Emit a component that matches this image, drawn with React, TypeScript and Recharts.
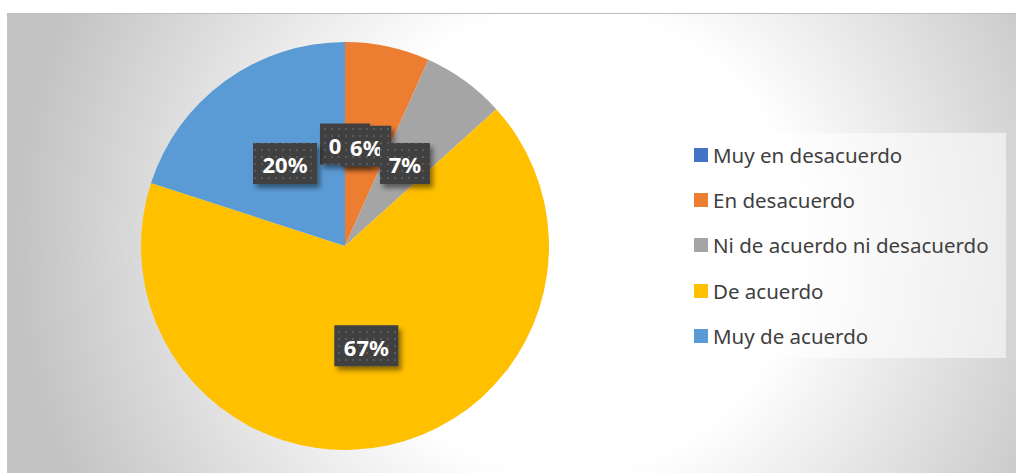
import React from 'react';
import { PieChart, Pie, Cell, Legend } from 'recharts';

const categories = [
  'Muy en desacuerdo',
  'En desacuerdo',
  'Ni de acuerdo ni desacuerdo',
  'De acuerdo',
  'Muy de acuerdo',
];
const shares = [0, 6.7, 6.6, 66.7, 20.0];
const percentLabels = ['0%', '6%', '7%', '67%', '20%'];
const colors = ['#4472C4', '#ED7D31', '#A5A5A5', '#FFC000', '#5B9BD5'];

const data = categories.map((name, i) => ({ name, value: shares[i] }));

const RAD = Math.PI / 180;
const FONT = '"Noto Sans", "Open Sans", sans-serif';

const renderLabel = (props: any) => {
  const { cx, cy, midAngle, outerRadius, index } = props;
  const r = outerRadius * 0.5;
  const x = cx + r * Math.cos(-midAngle * RAD);
  const y = cy + r * Math.sin(-midAngle * RAD);
  const text = percentLabels[index];
  const w = 14 * text.length + 22;
  const h = 41;
  return (
    <g key={`lbl-${index}`}>
      <rect x={x - w / 2} y={y - h / 2} width={w} height={h} fill="#404040" filter="url(#lblShadow)" />
      <rect x={x - w / 2} y={y - h / 2} width={w} height={h} fill="url(#lblDots)" />
      <text
        x={x}
        y={y + 1}
        textAnchor="middle"
        dominantBaseline="central"
        fill="#ffffff"
        fontWeight={700}
        fontSize={22}
        fontFamily={FONT}
      >
        {text}
      </text>
    </g>
  );
};

const renderLegend = () => (
  <div
    style={{
      position: 'relative',
      width: 325,
      height: 225,
      background: 'rgba(255,255,255,0.55)',
      fontFamily: FONT,
    }}
  >
    {categories.map((name, i) => (
      <div
        key={name}
        style={{
          position: 'absolute',
          left: 13,
          top: 22 + i * 45.2 - 12,
          height: 24,
          display: 'flex',
          alignItems: 'center',
          whiteSpace: 'nowrap',
        }}
      >
        <span style={{ display: 'inline-block', width: 14, height: 14, background: colors[i], marginRight: 5 }} />
        <span style={{ fontSize: 20.5, color: '#404040', lineHeight: '24px' }}>{name}</span>
      </div>
    ))}
  </div>
);

export default function App() {
  return (
    <div style={{ position: 'absolute', left: 0, top: 0, width: 1016, height: 473, background: '#ffffff', overflow: 'hidden' }}>
      <svg width={0} height={0} style={{ position: 'absolute' }}>
        <defs>
          <filter id="lblShadow" x="-30%" y="-30%" width="160%" height="170%">
            <feDropShadow dx={3} dy={4} stdDeviation={2.5} floodColor="#000000" floodOpacity={0.45} />
          </filter>
          <pattern id="lblDots" x={0} y={0} width={7} height={7} patternUnits="userSpaceOnUse">
            <rect x={2} y={2} width={2} height={2} fill="#5a5a5a" />
          </pattern>
        </defs>
      </svg>
      <div
        style={{
          position: 'absolute',
          left: 7,
          top: 13,
          width: 1009,
          height: 460,
          borderTop: '1px solid #bdbdbd',
          boxSizing: 'border-box',
          background:
            'radial-gradient(circle at 560px 227px, #ffffff 0px, #ffffff 230px, #c3c3c3 550px)',
        }}
      />
      <div style={{ position: 'absolute', left: 0, top: 0 }}>
        <PieChart width={1016} height={473} margin={{ top: 0, right: 0, bottom: 0, left: 0 }}>
          <Pie
            data={data}
            dataKey="value"
            nameKey="name"
            cx={345}
            cy={246}
            outerRadius={204}
            startAngle={90}
            endAngle={-270}
            stroke="none"
            label={renderLabel}
            labelLine={false}
            isAnimationActive={false}
          >
            {data.map((d, i) => (
              <Cell key={d.name} fill={colors[i]} />
            ))}
          </Pie>
          <Legend
            layout="vertical"
            align="right"
            verticalAlign="top"
            content={renderLegend}
            wrapperStyle={{ position: 'absolute', left: 681, top: 133, width: 325, height: 225 }}
          />
        </PieChart>
      </div>
    </div>
  );
}
